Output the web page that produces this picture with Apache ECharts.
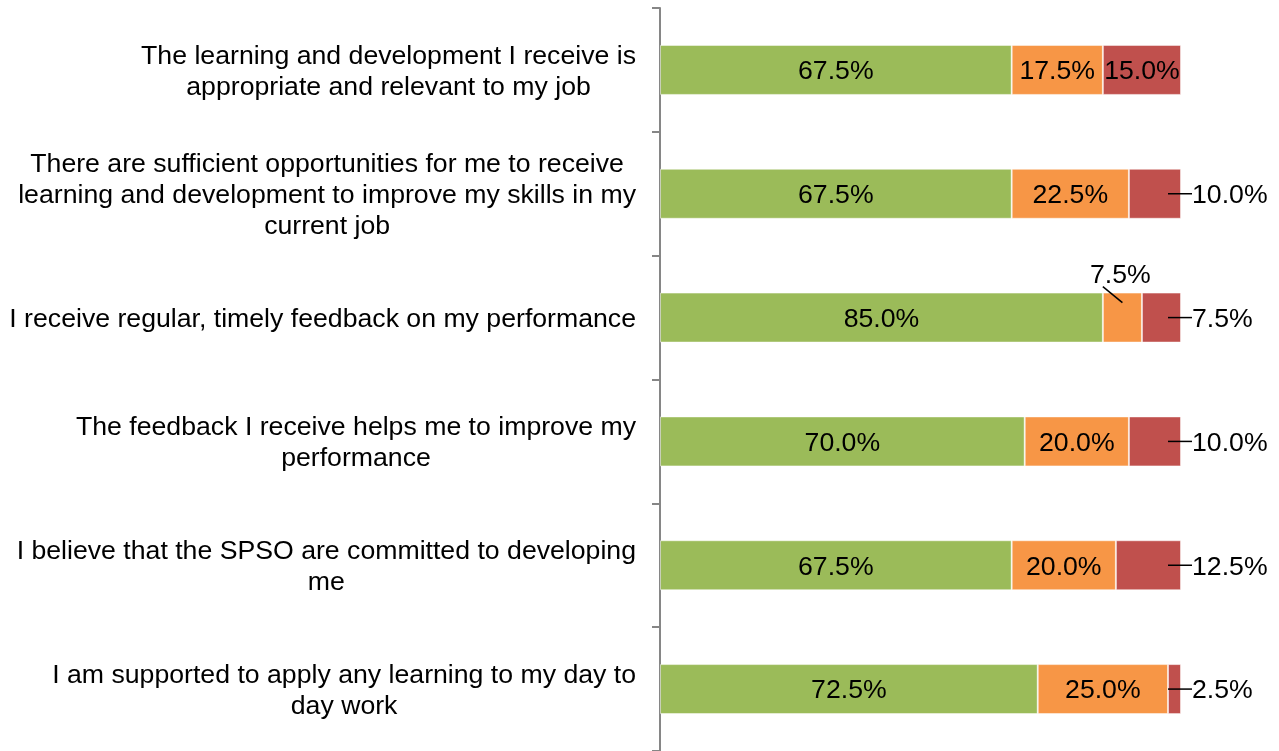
<!DOCTYPE html>
<html>
<head>
<meta charset="utf-8">
<script src="https://cdn.jsdelivr.net/npm/echarts@6/dist/echarts.min.js"></script>
<style>
html,body{margin:0;padding:0;background:#fff;}
#chart{width:1279px;height:751px;}
</style>
</head>
<body>
<div id="chart"></div>
<script>
const categories = [
  "The learning and development I receive is\nappropriate and relevant to my job",
  "There are sufficient opportunities for me to receive\nlearning and development to improve my skills in my\ncurrent job",
  "I receive regular, timely feedback on my performance",
  "The feedback I receive helps me to improve my\nperformance",
  "I believe that the SPSO are committed to developing\nme",
  "I am supported to apply any learning to my day to\nday work"
];
const agree = [67.5, 67.5, 85.0, 70.0, 67.5, 72.5];
const neutral = [17.5, 22.5, 7.5, 20.0, 20.0, 25.0];
const disagree = [15.0, 10.0, 7.5, 10.0, 12.5, 2.5];

const FONT = "'Liberation Sans', Arial, sans-serif";
const FS = 26.67;
const colors = ['#9BBB59', '#F79646', '#C0504D'];
const HALF_BAR = 25;

function fmt(p) { return p.value.toFixed(1) + '%'; }
function isOutside(v) { return v < 14; }

const chart = echarts.init(document.getElementById('chart'), null, { renderer: 'canvas' });

const baseLabel = {
  show: true,
  position: 'inside',
  formatter: fmt,
  fontFamily: FONT,
  fontSize: FS,
  color: '#000'
};

chart.setOption({
  animation: false,
  grid: { left: 660, right: 98, top: 8, bottom: -1, containLabel: false },
  xAxis: { type: 'value', min: 0, max: 100, show: false },
  yAxis: {
    type: 'category',
    inverse: true,
    data: categories,
    axisLine: { show: true, lineStyle: { color: '#868686', width: 2 } },
    axisTick: { show: true, length: 8, inside: false, lineStyle: { color: '#868686', width: 2 } },
    axisLabel: {
      margin: 24,
      padding: [4, 0, 0, 0],
      fontFamily: FONT,
      fontSize: FS,
      color: '#000',
      lineHeight: 31,
      formatter: function (v) {
        return v.split('\n').map(l => '{c|' + l + '}').join('\n');
      },
      rich: { c: { align: 'center', fontFamily: FONT, fontSize: FS, lineHeight: 31, color: '#000' } }
    },
    splitLine: { show: false }
  },
  series: [
    {
      type: 'bar', stack: 't', barWidth: 2 * HALF_BAR,
      itemStyle: { color: colors[0], borderColor: 'rgba(255,255,255,0.5)', borderWidth: 1 },
      label: baseLabel,
      data: agree,
      labelLayout: function () { return { dy: 2 }; }
    },
    {
      type: 'bar', stack: 't', barWidth: 2 * HALF_BAR,
      itemStyle: { color: colors[1], borderColor: 'rgba(255,255,255,0.5)', borderWidth: 1 },
      label: baseLabel,
      data: neutral,
      labelLayout: function (p) {
        if (!isOutside(neutral[p.dataIndex])) return { dy: 2 };
        const cx = p.rect.x + p.rect.width / 2;
        return { x: cx - 2, y: p.rect.y - 17, align: 'center', verticalAlign: 'middle' };
      }
    },
    {
      type: 'bar', stack: 't', barWidth: 2 * HALF_BAR,
      itemStyle: { color: colors[2], borderColor: 'rgba(255,255,255,0.5)', borderWidth: 1 },
      label: baseLabel,
      data: disagree,
      labelLayout: function (p) {
        if (!isOutside(disagree[p.dataIndex])) return { dy: 2 };
        const right = p.rect.x + p.rect.width;
        return { x: right + 11, y: p.rect.y + p.rect.height / 2 + 2, align: 'left', verticalAlign: 'middle' };
      }
    }
  ]
});

// Leader lines, positioned through the chart's own scales
const graphics = [];
const lineStyle = { stroke: '#000', lineWidth: 1.5 };
categories.forEach(function (c, i) {
  const cy = chart.convertToPixel({ yAxisIndex: 0 }, i);
  if (isOutside(disagree[i])) {
    const right = chart.convertToPixel({ xAxisIndex: 0 }, agree[i] + neutral[i] + disagree[i]);
    graphics.push({ type: 'line', silent: true, z: 10,
      shape: { x1: right - 13, y1: cy, x2: right + 11, y2: cy }, style: lineStyle });
  }
  if (isOutside(neutral[i])) {
    const left = chart.convertToPixel({ xAxisIndex: 0 }, agree[i]);
    const cx = chart.convertToPixel({ xAxisIndex: 0 }, agree[i] + neutral[i] / 2);
    const top = cy - HALF_BAR;
    graphics.push({ type: 'line', silent: true, z: 10,
      shape: { x1: left, y1: top - 6, x2: cx, y2: top + 10 }, style: lineStyle });
  }
});
chart.setOption({ graphic: graphics });
</script>
</body>
</html>
